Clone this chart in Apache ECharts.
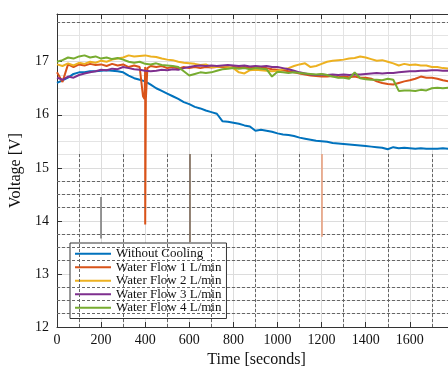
<!DOCTYPE html>
<html><head><meta charset="utf-8">
<script src="https://cdn.jsdelivr.net/npm/echarts@6/dist/echarts.min.js"></script>
<style>html,body{margin:0;padding:0;background:#fff}#c{width:448px;height:368px}</style>
</head><body><div id="c"></div>
<script>
var times = [0,25,50,75,100,125,150,175,200,225,250,275,300,325,350,375,400,425,450,475,500,525,550,575,600,625,650,675,700,725,750,775,800,825,850,875,900,925,950,975,1000,1025,1050,1075,1100,1125,1150,1175,1200,1225,1250,1275,1300,1325,1350,1375,1400,1425,1450,1475,1500,1525,1550,1575,1600,1625,1650,1675,1700,1725,1750,1775,1800];
var seriesNames = ['Without Cooling','Water Flow 1 L/min','Water Flow 2 L/min','Water Flow 3 L/min','Water Flow 4 L/min'];
var noCooling = [16.6,16.65,16.7,16.77,16.8,16.8,16.82,16.82,16.83,16.84,16.83,16.82,16.8,16.74,16.69,16.66,16.63,16.57,16.5,16.45,16.4,16.35,16.3,16.24,16.2,16.15,16.12,16.08,16.05,16.02,15.88,15.87,15.85,15.83,15.8,15.78,15.7,15.72,15.7,15.68,15.65,15.63,15.62,15.6,15.57,15.55,15.53,15.51,15.5,15.49,15.47,15.46,15.45,15.44,15.43,15.42,15.41,15.4,15.39,15.38,15.35,15.39,15.37,15.38,15.37,15.36,15.37,15.36,15.36,15.36,15.37,15.36,15.36];
var flow1 = [16.8,16.62,16.95,16.9,16.95,16.93,16.96,16.94,16.95,16.92,16.96,16.93,16.95,16.9,16.93,16.9,16.9,16.92,16.9,16.92,16.88,16.9,16.87,16.9,16.88,16.9,16.88,16.9,16.89,16.9,16.9,16.88,16.9,16.89,16.9,16.88,16.9,16.88,16.88,16.86,16.85,16.84,16.82,16.8,16.78,16.76,16.74,16.73,16.72,16.72,16.73,16.71,16.72,16.71,16.72,16.7,16.7,16.68,16.63,16.6,16.58,16.57,16.6,16.63,16.65,16.68,16.72,16.7,16.7,16.68,16.65,16.63,16.62];
var flow1Spike = [[390,16.35],[397,16.3],[400,13.93],[403,16.3],[410,16.88]];
var flow2 = [16.95,16.92,16.97,16.93,16.98,16.96,17.0,16.98,17.02,17.0,17.04,17.06,17.08,17.12,17.1,17.11,17.12,17.1,17.09,17.06,17.04,17.03,17.0,16.98,16.97,16.96,16.94,16.95,16.9,16.9,16.92,16.9,16.88,16.8,16.78,16.84,16.85,16.84,16.83,16.82,16.83,16.86,16.88,16.92,16.95,16.97,16.9,16.92,16.96,17.0,17.02,17.03,17.04,17.06,17.07,17.1,17.08,17.05,17.02,17.03,17.0,16.97,16.93,16.96,16.94,16.95,16.93,16.93,16.9,16.9,16.88,16.87,16.86];
var flow3 = [16.7,16.66,16.72,16.7,16.75,16.78,16.8,16.82,16.85,16.84,16.87,16.86,16.9,16.88,16.86,16.85,16.83,16.82,16.83,16.85,16.84,16.86,16.85,16.88,16.9,16.92,16.93,16.92,16.93,16.92,16.93,16.94,16.93,16.92,16.93,16.91,16.92,16.91,16.92,16.9,16.9,16.88,16.86,16.83,16.8,16.78,16.76,16.75,16.76,16.75,16.76,16.75,16.76,16.75,16.76,16.76,16.77,16.78,16.79,16.78,16.79,16.79,16.8,16.81,16.82,16.82,16.83,16.83,16.84,16.84,16.83,16.83,16.82];
var flow4 = [17.0,17.03,17.08,17.06,17.1,17.12,17.08,17.1,17.06,17.08,17.05,17.07,17.04,17.0,16.98,17.0,16.96,16.95,16.97,16.94,16.93,16.92,16.9,16.82,16.74,16.77,16.8,16.79,16.8,16.83,16.86,16.87,16.88,16.87,16.88,16.86,16.88,16.87,16.86,16.72,16.81,16.8,16.79,16.8,16.79,16.78,16.77,16.76,16.77,16.75,16.72,16.7,16.7,16.68,16.8,16.69,16.67,16.66,16.66,16.65,16.68,16.66,16.45,16.46,16.46,16.45,16.47,16.46,16.5,16.51,16.5,16.51,16.52];
var xTicks = [0,200,400,600,800,1000,1200,1400,1600];
var yTicks = [12,13,14,15,16,17];
var dashH = [12.25,12.5,12.75,13.25,13.5,13.75,14.25,14.5,14.75,17.75];
var dashV = [100,300,500,700,900,1100,1300,1500,1700,1900];
var stray = [[200,14.45,13.67,'#7d7d7d'],[600,15.26,13.6,'#7a6655'],[1200,15.26,13.7,'#e8a07f']];

var colors = ['#0072BD','#D95319','#EDB120','#7E2F8E','#77AC30'];
function pairs(vals){ return times.map(function(t,i){ return [t, vals[i]]; }); }
var f1 = pairs(flow1).concat(flow1Spike).sort(function(a,b){return a[0]-b[0];});
var all = [pairs(noCooling), f1, pairs(flow2), pairs(flow3), pairs(flow4)];
var font = 'Liberation Serif';

var gridLines = [];
dashH.forEach(function(v){ gridLines.push([{coord:[0,v]},{coord:[2000,v]}]); });
dashV.forEach(function(t){ gridLines.push([{coord:[t,12]},{coord:[t,15.3]}]); });
var strayLines = stray.map(function(s){ return [{coord:[s[0],s[1]],lineStyle:{color:s[3]}},{coord:[s[0],s[2]]}]; });

var series = [{
  type:'line', data:[], silent:true, symbol:'none',
  markLine:{silent:true, symbol:'none', label:{show:false}, animation:false,
    lineStyle:{color:'#666', type:[3,2], width:1}, data:gridLines}
},{
  type:'line', data:[], silent:true, symbol:'none',
  markLine:{silent:true, symbol:'none', label:{show:false}, animation:false,
    lineStyle:{width:1.6, type:'solid'}, data:strayLines}
}];
all.forEach(function(d,i){
  series.push({name:seriesNames[i], type:'line', data:d, symbol:'none', showSymbol:false,
    lineStyle:{width:2, color:colors[i]}, itemStyle:{color:colors[i]}, animation:false});
});

var chart = echarts.init(document.getElementById('c'));
chart.setOption({
  animation:false,
  grid:{left:57, top:14, right:-50, bottom:41, containLabel:false, outerBoundsMode:'none'},
  legend:{data:seriesNames, orient:'vertical', left:70, top:243, itemGap:0, itemWidth:36, itemHeight:2,
    icon:'rect',
    padding:[4,5,4,5], backgroundColor:'#fff', borderColor:'#333', borderWidth:1, borderRadius:0,
    textStyle:{fontFamily:font, fontSize:13, color:'#111', lineHeight:13.5}},
  xAxis:[{type:'value', min:0, max:2000, interval:200,
    name:'Time [seconds]', nameLocation:'middle', nameGap:21,
    nameTextStyle:{fontFamily:font, fontSize:16, color:'#111', padding:[0,0,0,-42]},
    axisLine:{lineStyle:{color:'#333'}}, axisTick:{inside:true, length:5, lineStyle:{color:'#333'}},
    axisLabel:{fontFamily:font, fontSize:14, color:'#111', margin:6,
      formatter:function(v){ return xTicks.indexOf(v) >= 0 ? String(v) : ''; }},
    splitLine:{show:true, lineStyle:{color:'#dcdcdc'}},
    minorTick:{show:false, splitNumber:2}, minorSplitLine:{show:true, lineStyle:{color:'#e4e4e4'}}
  },{type:'value', position:'top', min:0, max:2000, interval:200,
    axisLine:{show:true, lineStyle:{color:'#333'}}, axisTick:{show:true, inside:true, length:5, lineStyle:{color:'#333'}},
    axisLabel:{show:false}, splitLine:{show:false}}],
  yAxis:{type:'value', min:12, max:17.9, interval:1,
    name:'Voltage [V]', nameLocation:'middle', nameGap:29,
    nameTextStyle:{fontFamily:font, fontSize:16, color:'#111'},
    axisLine:{show:true, lineStyle:{color:'#333'}}, axisTick:{show:true, inside:true, length:5, lineStyle:{color:'#333'}},
    axisLabel:{fontFamily:font, fontSize:14, color:'#111', margin:8,
      formatter:function(v){ return yTicks.indexOf(v) >= 0 ? String(v) : ''; }},
    splitLine:{show:true, lineStyle:{color:'#dcdcdc'}},
    minorTick:{show:false, splitNumber:4}, minorSplitLine:{show:true, lineStyle:{color:'#e4e4e4'}}
  },
  series:series
});
</script></body></html>
